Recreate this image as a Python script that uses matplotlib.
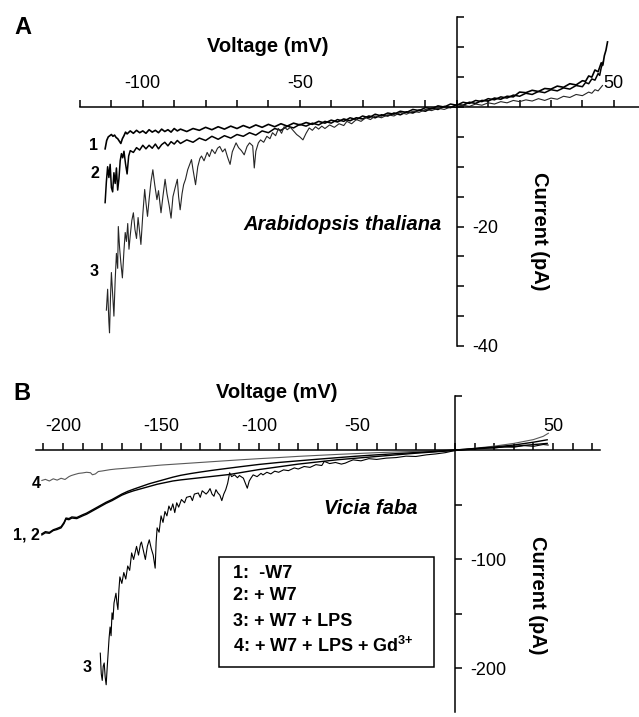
import matplotlib
matplotlib.use("Agg")
import matplotlib.pyplot as plt
from matplotlib.patches import Rectangle

plt.rcParams['font.family'] = ['Liberation Sans', 'DejaVu Sans']
plt.rcParams['mathtext.fontset'] = 'custom'
plt.rcParams['mathtext.rm'] = 'Liberation Sans'
plt.rcParams['mathtext.bf'] = 'Liberation Sans:bold'

# ---- panel A: Arabidopsis thaliana (voltage mV, current pA) ----
a1_v = [-112.0, -111.5, -111.0, -110.5, -110.0, -109.5, -109.0, -108.5, -108.0, -107.5,
        -107.0, -106.5, -106.0, -105.5, -105.0, -104.0, -103.0, -102.0, -101.0, -100.0,
        -99.0, -98.0, -97.0, -96.0, -95.0, -94.0, -93.0, -92.0, -91.0, -90.0,
        -89.0, -88.0, -86.0, -84.0, -82.0, -80.0, -78.0, -76.0, -74.0, -72.0,
        -70.0, -68.0, -66.0, -64.0, -62.0, -60.0, -58.0, -56.0, -54.0, -52.0,
        -50.0, -48.0, -46.0, -44.0, -42.0, -40.0, -38.0, -36.0, -34.0, -32.0,
        -30.0, -28.0, -26.0, -24.0, -22.0, -20.0, -18.0, -16.0, -14.0, -12.0,
        -10.0, -8.0, -6.0, -4.0, -2.0, 0.0, 2.0, 4.0, 6.0, 8.0,
        10.0, 12.0, 14.0, 16.0, 18.0, 20.0, 22.0, 24.0, 26.0, 28.0,
        30.0, 32.0, 34.0, 36.0, 38.0, 40.0, 41.0, 42.0, 43.0, 44.0,
        45.0, 46.0, 46.5, 47.0, 47.5, 48.0]
a1_i = [-7.0, -5.6, -5.0, -4.8, -4.6, -4.9, -4.7, -5.1, -5.3, -5.7,
        -6.1, -5.3, -4.8, -4.2, -4.5, -4.0, -4.4, -3.9, -4.3, -4.0,
        -4.4, -3.8, -4.2, -3.9, -4.3, -3.7, -4.1, -3.8, -4.2, -3.6,
        -4.0, -3.7, -4.1, -3.6, -3.9, -3.4, -3.8, -3.3, -3.7, -3.2,
        -3.6, -3.1, -3.5, -3.0, -3.4, -2.9, -3.3, -2.8, -3.2, -2.7,
        -3.0, -2.6, -2.9, -2.4, -2.7, -2.2, -2.5, -2.0, -2.3, -1.8,
        -2.0, -1.5, -1.8, -1.3, -1.5, -1.0, -1.3, -0.8, -1.0, -0.5,
        -0.7, -0.2, -0.4, 0.1, -0.1, 0.4, 0.3, 0.8, 0.6, 1.1,
        1.0, 1.5, 1.3, 1.8, 1.7, 2.5, 2.4, 2.8, 2.6, 3.1,
        3.0, 3.5, 3.3, 3.9, 3.7, 4.4, 4.3, 5.2, 5.0, 6.2,
        5.9, 7.4, 7.0, 8.6, 9.5, 10.9]

a2_v = [-112.0, -111.6, -111.2, -110.8, -110.4, -110.0, -109.6, -109.2, -108.8, -108.4,
        -108.0, -107.6, -107.2, -106.8, -106.4, -106.0, -105.5, -105.0, -104.5, -104.0,
        -103.0, -102.0, -101.0, -100.0, -99.0, -98.0, -97.0, -96.0, -95.0, -94.0,
        -93.0, -92.0, -91.0, -90.0, -89.0, -88.0, -86.0, -84.0, -82.0, -80.0,
        -78.0, -76.0, -74.0, -72.0, -70.0, -68.0, -66.0, -64.0, -62.0, -60.0,
        -58.0, -56.0, -54.0, -52.0, -50.0, -48.0, -46.0, -44.0, -42.0, -40.0,
        -38.0, -36.0, -34.0, -32.0, -30.0, -28.0, -26.0, -24.0, -22.0, -20.0,
        -18.0, -16.0, -14.0, -12.0, -10.0, -8.0, -6.0, -4.0, -2.0, 0.0,
        2.0, 4.0, 6.0, 8.0, 10.0, 12.0, 14.0, 16.0, 18.0, 20.0,
        22.0, 24.0, 26.0, 28.0, 30.0, 32.0, 34.0, 36.0, 38.0, 40.0,
        41.0, 42.0, 43.0, 44.0, 45.0, 45.5, 46.0, 46.6]
a2_i = [-16.0, -12.5, -10.0, -11.8, -9.6, -13.5, -14.2, -11.0, -12.8, -10.2,
        -13.9, -12.0, -9.0, -7.8, -8.5, -7.4, -9.5, -11.2, -8.2, -7.3,
        -7.6, -6.8, -7.2, -6.4, -7.0, -6.4, -6.9, -6.2, -7.0, -6.3,
        -5.9, -6.5, -5.8, -6.2, -5.6, -6.1, -5.5, -5.9, -5.2, -5.6,
        -4.9, -5.4, -4.8, -5.2, -4.6, -4.9, -4.3, -4.7, -4.0, -4.3,
        -3.6, -3.9, -3.2, -3.5, -2.9, -3.2, -2.7, -3.0, -2.4, -2.7,
        -2.1, -2.4, -1.8, -2.1, -1.5, -1.8, -1.2, -1.5, -1.0, -1.2,
        -0.7, -0.9, -0.4, -0.6, -0.1, -0.3, 0.2, 0.0, 0.5, 0.3,
        0.8, 0.6, 1.1, 0.9, 1.4, 1.2, 1.7, 1.5, 2.0, 1.8,
        2.3, 2.1, 2.6, 2.4, 2.9, 2.7, 3.2, 3.0, 3.6, 3.4,
        4.1, 3.9, 4.7, 4.5, 5.6, 5.3, 6.6, 7.5]

a3_v = [-111.6, -111.2, -110.8, -110.6, -110.3, -110.0, -109.6, -109.2, -108.8, -108.4,
        -108.0, -107.8, -107.4, -107.0, -106.5, -106.0, -105.6, -105.2, -104.8, -104.4,
        -104.0, -103.5, -103.0, -102.5, -102.0, -101.5, -101.0, -100.6, -100.0, -99.4,
        -99.0, -98.5, -98.0, -97.4, -96.8, -96.2, -95.5, -95.0, -94.2, -93.6,
        -92.9, -92.3, -91.6, -91.0, -90.4, -89.7, -89.0, -88.6, -88.1, -87.5,
        -87.0, -86.4, -85.7, -85.0, -84.5, -84.0, -83.2, -82.5, -81.8, -81.3,
        -80.5, -79.5, -78.8, -78.0, -77.0, -76.2, -75.5, -74.6, -73.8, -73.0,
        -72.2, -71.5, -70.3, -69.5, -68.6, -67.7, -66.8, -66.0, -65.0, -64.5,
        -64.0, -63.2, -62.5, -61.5, -60.5, -59.5, -58.7, -57.7, -56.8, -55.8,
        -55.0, -54.0, -53.0, -52.0, -51.0, -50.0, -49.0, -48.0, -47.0, -46.0,
        -45.0, -44.0, -43.0, -42.0, -40.5, -39.0, -37.5, -36.0, -35.0, -33.5,
        -32.0, -30.5, -29.0, -27.5, -26.0, -24.0, -22.0, -20.0, -18.0, -16.0,
        -14.0, -12.0, -10.0, -8.0, -6.0, -4.0, -2.0, 0.0, 2.0, 4.0,
        6.0, 8.0, 10.0, 12.0, 14.0, 16.0, 18.0, 20.0, 22.0, 24.0,
        26.0, 28.0, 30.0, 32.0, 34.0, 36.0, 38.0, 40.0, 42.0, 43.0,
        44.0, 45.0, 46.4]
a3_i = [-34.0, -30.5, -36.0, -37.8, -32.0, -27.7, -31.5, -35.0, -29.0, -24.5,
        -27.0, -20.0, -23.5, -26.0, -28.6, -24.0, -21.0, -22.5, -19.5, -23.8,
        -21.5, -19.0, -17.7, -20.5, -22.0, -18.5, -21.0, -23.0, -18.0, -13.8,
        -16.0, -18.3, -15.5, -12.5, -10.5, -13.0, -15.5, -14.0, -17.7, -15.0,
        -12.1, -14.5, -16.5, -18.6, -15.0, -13.5, -12.1, -15.0, -17.2, -14.5,
        -13.0, -12.1, -10.5, -9.5, -8.8, -10.5, -13.0, -10.0, -8.6, -8.2,
        -9.0, -7.6, -8.3, -7.1, -7.8, -6.9, -6.6, -7.5, -7.0, -8.4,
        -9.6, -7.5, -6.0, -6.8, -7.3, -8.0, -6.6, -6.0, -6.5, -10.2,
        -7.4, -6.0, -5.5, -5.9, -4.9, -5.3, -4.3, -4.8, -3.6, -4.4,
        -3.3, -3.8, -3.4, -4.0, -4.6, -5.0, -5.5, -4.4, -3.5, -3.9,
        -3.3, -3.7, -3.2, -3.6, -3.0, -3.4, -2.8, -3.1, -2.4, -2.8,
        -2.1, -2.4, -1.8, -2.1, -1.5, -1.8, -1.3, -1.5, -0.9, -1.2,
        -0.7, -0.9, -0.4, -0.6, -0.2, -0.4, 0.0, -0.1, 0.3, 0.1,
        0.5, 0.3, 0.7, 0.5, 0.9, 0.7, 1.1, 0.9, 1.2, 1.0,
        1.4, 1.1, 1.5, 1.3, 1.8, 1.6, 2.1, 1.9, 2.5, 2.3,
        2.9, 2.7, 3.6]

# ---- panel B: Vicia faba ----
b1_v = [-210.8, -209.0, -207.0, -205.0, -203.0, -201.0, -199.5, -198.5, -197.0, -195.5,
        -193.0, -190.0, -188.0, -186.0, -184.0, -182.0, -180.0, -178.0, -175.0, -172.0,
        -170.0, -167.0, -164.0, -160.0, -156.0, -152.0, -148.0, -144.0, -140.0, -135.0,
        -130.0, -125.0, -120.0, -110.0, -100.0, -90.0, -80.0, -70.0, -60.0, -50.0,
        -40.0, -30.0, -20.0, -10.0, 0.0, 10.0, 20.0, 30.0, 40.0, 47.0]
b1_i = [-76.5, -74.5, -75.2, -72.8, -71.5, -70.0, -66.0, -62.0, -62.5, -61.0,
        -61.5, -59.0, -57.5, -55.5, -53.5, -51.5, -49.5, -47.5, -45.0, -42.0,
        -40.0, -37.5, -35.5, -33.0, -30.5, -28.5, -26.5, -24.5, -22.8, -21.2,
        -19.8, -18.5, -17.3, -15.0, -12.8, -11.0, -9.5, -8.0, -6.6, -5.2,
        -4.0, -2.9, -1.9, -0.9, 0.4, 1.8, 3.2, 5.0, 7.6, 9.8]

b2_v = [-210.8, -209.0, -207.0, -205.0, -203.0, -201.0, -199.5, -198.5, -197.0, -195.5,
        -193.0, -190.0, -188.0, -186.0, -184.0, -182.0, -180.0, -178.0, -175.0, -172.0,
        -170.0, -167.0, -164.0, -160.0, -156.0, -152.0, -148.0, -144.0, -140.0, -135.0,
        -130.0, -125.0, -120.0, -115.0, -110.0, -100.0, -90.0, -80.0, -70.0, -60.0,
        -50.0, -40.0, -30.0, -20.0, -10.0, 0.0, 10.0, 20.0, 30.0, 40.0,
        47.0]
b2_i = [-77.5, -75.5, -76.0, -73.5, -72.5, -71.0, -67.0, -63.0, -63.5, -62.0,
        -62.5, -60.0, -58.5, -56.5, -54.5, -52.5, -50.5, -48.5, -46.0, -43.0,
        -41.0, -38.8, -37.0, -35.0, -33.0, -31.0, -29.5, -28.0, -27.0, -26.0,
        -25.0, -24.0, -23.0, -22.0, -20.5, -17.5, -15.0, -12.5, -10.5, -8.5,
        -7.0, -5.5, -4.0, -2.5, -1.2, 0.0, 1.4, 2.6, 3.8, 5.4,
        6.5]

b3_v = [-181.0, -180.5, -180.0, -179.5, -179.0, -178.5, -178.0, -177.5, -177.0, -176.5,
        -176.0, -175.5, -175.0, -174.5, -174.0, -173.0, -172.5, -172.0, -171.5, -171.0,
        -170.0, -169.0, -168.0, -167.0, -166.0, -165.0, -164.0, -163.0, -162.5, -161.5,
        -160.5, -160.0, -159.0, -158.0, -157.0, -156.0, -155.0, -154.0, -153.0, -152.5,
        -152.0, -151.0, -150.0, -149.0, -148.0, -147.0, -146.0, -145.0, -144.0, -143.0,
        -142.0, -141.0, -139.6, -138.0, -137.0, -135.0, -134.0, -133.0, -131.0, -130.0,
        -129.0, -127.0, -126.0, -125.0, -124.0, -123.0, -122.0, -121.0, -120.0, -119.0,
        -118.0, -117.0, -116.0, -115.0, -114.0, -112.5, -111.0, -110.0, -108.0, -107.0,
        -106.0, -105.0, -104.0, -103.0, -101.0, -99.0, -98.0, -96.0, -94.0, -92.0,
        -90.0, -87.5, -85.0, -82.0, -80.0, -77.0, -74.0, -71.0, -68.0, -66.7,
        -64.0, -61.0, -58.0, -56.0, -54.0, -52.0, -48.0, -44.0, -40.0, -35.0,
        -30.0, -25.0, -20.0, -14.6, -10.0, -5.0, 0.0, 5.0, 10.0, 15.0,
        20.0, 25.0, 30.0, 35.0, 40.0, 45.0, 47.5]
b3_i = [-186, -205, -211, -198, -195, -208, -215, -200, -186, -172,
        -162, -170, -149, -155, -140, -131, -140, -146, -128, -116,
        -122, -112, -118, -106, -110, -94, -100, -92, -88, -96,
        -86, -84, -92, -100, -88, -82, -90, -96, -108, -84,
        -71, -75, -60, -66, -56, -60, -51, -55, -49, -57,
        -48, -52, -45, -48, -43, -42, -46, -40, -39, -43,
        -37, -40, -38, -35, -40, -42, -36, -39, -41, -46,
        -40, -36, -30, -20.5, -24, -22.4, -25, -23, -25.4, -30,
        -34.6, -28, -25, -22.4, -24, -21, -22.4, -20, -21.5, -19,
        -20, -17.8, -18.5, -16, -17, -14.7, -15.5, -13, -13.8, -10,
        -12, -11, -12.5, -11.6, -10, -8.6, -9.5, -7.5, -8.2, -7,
        -6.5, -5.2, -5.5, -4, -3.2, -2, 0, 0.8, 1.5, 2.5,
        2.2, 3.5, 3.0, 4.5, 3.8, 5.5, 5.0]

b4_v = [-210.8, -209.0, -207.0, -205.0, -203.0, -201.0, -199.0, -197.0, -195.8, -194.0,
        -192.0, -190.0, -188.0, -186.0, -185.0, -183.5, -182.0, -180.0, -178.0, -176.0,
        -173.0, -170.0, -165.0, -160.0, -155.0, -150.0, -140.0, -130.0, -120.0, -110.0,
        -100.0, -90.0, -80.0, -70.0, -60.0, -50.0, -40.0, -30.0, -20.0, -10.0,
        0.0, 10.0, 20.0, 30.0, 40.0, 45.0, 47.6]
b4_i = [-27.5, -26.5, -28.0, -26.0, -27.2, -25.5, -26.6, -24.0, -23.0, -22.0,
        -21.0, -20.6, -20.0, -20.4, -22.3, -21.5, -19.3, -18.8, -18.2, -17.6,
        -17.0, -16.6, -15.8, -15.0, -14.2, -13.4, -12.2, -11.0, -9.8, -8.6,
        -7.5, -6.5, -5.4, -4.5, -3.6, -2.8, -2.0, -1.4, -0.8, -0.3,
        0.5, 2.0, 4.0, 6.5, 10.0, 13.0, 15.8]

a_xticks = list(range(-120, 51, 10))
a_xlabels = ['-100', '-50', '50']
a_yticks = list(range(-40, 16, 5))
a_ylabels = ['-20', '-40']
b_xticks = list(range(-210, 71, 10))
b_xlabels = ['-200', '-150', '-100', '-50', '50']
b_yticks = [50, -50, -100, -150, -200]
b_ylabels = ['-100', '-200']

W, H = 639, 717
fig = plt.figure(figsize=(W / 100, H / 100), dpi=100)


def px(x, y):
    return x / W, 1 - y / H


def cross_axes(ax, xticks, xlabels, yticks, ylabels):
    for s in ['left', 'bottom']:
        ax.spines[s].set_visible(False)
    ax.spines['top'].set_position(('data', 0))
    ax.spines['right'].set_position(('data', 0))
    for s in ['top', 'right']:
        ax.spines[s].set_linewidth(1.1)
    ax.xaxis.tick_top()
    ax.yaxis.tick_right()
    ax.set_xticks(xticks)
    ax.set_xticklabels([str(t) if str(t) in xlabels else '' for t in xticks])
    ax.set_yticks(yticks)
    ax.set_yticklabels([str(t) if str(t) in ylabels else '' for t in yticks])
    ax.tick_params(axis='both', direction='out', length=5, width=1.1,
                   labelsize=13, pad=6)
    ax.patch.set_visible(False)


# panel A
axA = fig.add_axes([80 / W, 1 - 346 / H, 559 / W, (346 - 17.4) / H])
axA.set_xlim(-120, -120 + 559 / 3.14)
axA.set_ylim(-40, 15)
cross_axes(axA, a_xticks, a_xlabels, a_yticks, a_ylabels)
axA.plot(a1_v, a1_i, color='black', lw=1.2)
axA.plot(a2_v, a2_i, color='black', lw=1.1)
axA.plot(a3_v, a3_i, color='0.15', lw=0.8)

# panel B
axB = fig.add_axes([35.6 / W, 1 - 712 / H, 564.5 / W, (712 - 396) / H])
axB.set_xlim(-214, 74)
axB.set_ylim(-240, 50)
cross_axes(axB, b_xticks, b_xlabels, b_yticks, b_ylabels)
axB.plot(b4_v, b4_i, color='0.35', lw=0.8)
axB.plot(b1_v, b1_i, color='black', lw=1.0)
axB.plot(b2_v, b2_i, color='black', lw=1.0)
axB.plot(b3_v, b3_i, color='black', lw=0.8)

bold = dict(weight='bold', ha='center', va='center')
fig.text(*px(23, 27), 'A', fontsize=17, **bold)
fig.text(*px(268, 47), 'Voltage (mV)', fontsize=14.5, **bold)
fig.text(*px(539, 231), 'Current (pA)', fontsize=14.5, rotation=-90, **bold)
fig.text(*px(343, 225), 'Arabidopsis thaliana', fontsize=14.5, style='italic', **bold)
fig.text(*px(93, 146), '1', fontsize=11.5, **bold)
fig.text(*px(95, 174), '2', fontsize=11.5, **bold)
fig.text(*px(94, 272), '3', fontsize=11.5, **bold)

fig.text(*px(22, 393), 'B', fontsize=17, **bold)
fig.text(*px(277, 392), 'Voltage (mV)', fontsize=14.5, **bold)
fig.text(*px(538, 595), 'Current (pA)', fontsize=14.5, rotation=-90, **bold)
fig.text(*px(371, 508), 'Vicia faba', fontsize=14.5, style='italic', **bold)
fig.text(*px(36, 483), '4', fontsize=11.5, **bold)
fig.text(*px(26, 535), '1, 2', fontsize=11.5, **bold)
fig.text(*px(87, 668), '3', fontsize=11.5, **bold)

fig.patches.append(Rectangle(px(219, 667), 215 / W, 110 / H, transform=fig.transFigure,
                             fill=False, lw=1.1, edgecolor='black'))
legend_lines = ['1:  -W7', '2: + W7', '3: + W7 + LPS', r'4: + W7 + LPS + Gd$^{\mathbf{3{+}}}$']
for txt, yy in zip(legend_lines, [573, 596, 621, 646]):
    fig.text(*px(233, yy), txt, fontsize=13, weight='bold', ha='left', va='center')

fig.savefig('out.png', dpi=100)
